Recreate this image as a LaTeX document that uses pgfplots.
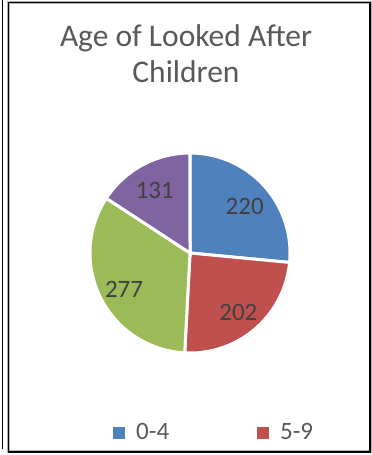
\documentclass[border=0pt]{standalone}
\usepackage{pgfplots}
\pgfplotsset{compat=1.18}
\usepackage{pgfplotstable}
\usepackage{fontspec}
\setmainfont{Carlito}
\definecolor{sBlue}{HTML}{4F81BD}
\definecolor{sRed}{HTML}{C0504D}
\definecolor{sGreen}{HTML}{9BBB59}
\definecolor{sPurple}{HTML}{8064A2}
\definecolor{tGray}{HTML}{595959}
\definecolor{lGray}{HTML}{404040}

\pgfplotstableread{
label value
0-4 220
5-9 202
10-15 277
16+ 131
}\agedata

\begin{document}
\begin{tikzpicture}
\path[use as bounding box] (0,0) rectangle (372bp,455bp);
\pgfplotstablegetelem{0}{value}\of\agedata \let\va\pgfplotsretval
\pgfplotstablegetelem{1}{value}\of\agedata \let\vb\pgfplotsretval
\pgfplotstablegetelem{2}{value}\of\agedata \let\vc\pgfplotsretval
\pgfplotstablegetelem{3}{value}\of\agedata \let\vd\pgfplotsretval
\pgfmathsetmacro\tot{\va+\vb+\vc+\vd}
\pgfmathsetmacro\aA{90}
\pgfmathsetmacro\aB{\aA-360*(\va/\tot)}
\pgfmathsetmacro\aC{\aB-360*(\vb/\tot)}
\pgfmathsetmacro\aD{\aC-360*(\vc/\tot)}
\pgfmathsetmacro\aE{\aD-360*(\vd/\tot)}
\pgfmathsetmacro\mA{(\aA+\aB)/2}
\pgfmathsetmacro\mB{(\aB+\aC)/2}
\pgfmathsetmacro\mC{(\aC+\aD)/2}
\pgfmathsetmacro\mD{(\aD+\aE)/2}
% frame
\draw[line width=1.5bp, black] (2.5bp,6bp) -- (2.5bp,455bp);
\draw[line width=3bp, gray!60] (8.5bp,3bp) rectangle (370bp,452.5bp);
\draw[line width=1.6bp, black] (8.5bp,3bp) rectangle (370bp,452.5bp);
% title
\node[anchor=base, text=tGray, font=\fontsize{31.5bp}{36bp}\selectfont] at (186bp,408bp) {Age of Looked After};
\node[anchor=base, text=tGray, font=\fontsize{31.5bp}{36bp}\selectfont] at (186bp,372bp) {Children};
\begin{axis}[
  at={(190bp,202bp)}, anchor=center,
  x=100bp, y=100bp,
  xmin=-1.2, xmax=1.2, ymin=-1.2, ymax=1.2,
  hide axis, clip=false,
  legend columns=2,
  legend image code/.code={\fill[#1,draw=none] (0bp,-6bp) rectangle (12bp,6bp);},
  legend style={at={(axis cs:-0.77,-1.795)}, anchor=west, draw=none, fill=none,
    inner sep=0pt, cells={inner sep=0pt}, font=\fontsize{25bp}{29bp}\selectfont, text=tGray,
    /tikz/every odd column/.append style={column sep=9bp},
    /tikz/every even column/.append style={column sep=86bp}},
  legend cell align=left,
]
\addplot[fill=sBlue, draw=white, line width=3bp, domain=\aB:\aA, samples=90, variable=\t] ({cos(\t)},{sin(\t)}) -- (axis cs:0,0) -- cycle;
\addlegendentry{0-4}
\addplot[fill=sRed, draw=white, line width=3bp, domain=\aC:\aB, samples=90, variable=\t] ({cos(\t)},{sin(\t)}) -- (axis cs:0,0) -- cycle;
\addlegendentry{5-9}
\addplot[forget plot, fill=sGreen, draw=white, line width=3bp, domain=\aD:\aC, samples=90, variable=\t] ({cos(\t)},{sin(\t)}) -- (axis cs:0,0) -- cycle;
\addplot[forget plot, fill=sPurple, draw=white, line width=3bp, domain=\aE:\aD, samples=90, variable=\t] ({cos(\t)},{sin(\t)}) -- (axis cs:0,0) -- cycle;
\node[text=lGray, font=\fontsize{25bp}{29bp}\selectfont, yshift=-3bp] at (axis cs:{0.74*cos(\mA)},{0.74*sin(\mA)}) {\va};
\node[text=lGray, font=\fontsize{25bp}{29bp}\selectfont, yshift=-3bp] at (axis cs:{0.74*cos(\mB)},{0.74*sin(\mB)}) {\vb};
\node[text=lGray, font=\fontsize{25bp}{29bp}\selectfont, yshift=-3bp] at (axis cs:{0.74*cos(\mC)},{0.74*sin(\mC)}) {\vc};
\node[text=lGray, font=\fontsize{25bp}{29bp}\selectfont, yshift=-3bp] at (axis cs:{0.74*cos(\mD)},{0.74*sin(\mD)}) {\vd};
\end{axis}
\end{tikzpicture}
\end{document}
